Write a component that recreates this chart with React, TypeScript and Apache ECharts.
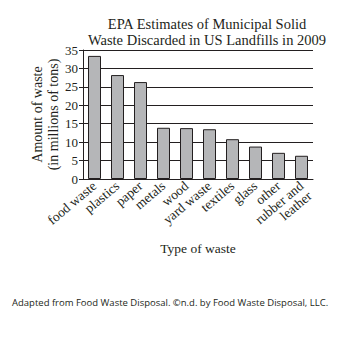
import React, { useEffect, useRef } from "react";
import * as echarts from "echarts";

const categories = ["food waste", "plastics", "paper", "metals", "wood", "yard waste", "textiles", "glass", "other", "rubber and\nleather"];
const values = [33.4, 28.2, 26.3, 13.9, 13.8, 13.5, 10.8, 8.8, 7.1, 6.3];
const yTicks = [0, 5, 10, 15, 20, 25, 30, 35];

const SERIF = "'Liberation Serif', 'DejaVu Serif', serif";

export default function App() {
  const ref = useRef<HTMLDivElement>(null);
  useEffect(() => {
    document.body.style.margin = "0";
    const chart = echarts.init(ref.current!, null, { renderer: "svg" });
    chart.setOption({
      animation: false,
      backgroundColor: "#ffffff",
      title: {
        text: "EPA Estimates of Municipal Solid\nWaste Discarded in US Landfills in 2009",
        left: 202,
        textAlign: "center",
        top: 11,
        textStyle: { fontFamily: SERIF, fontSize: 14.5, fontWeight: "normal", color: "#231f20", lineHeight: 16 },
      },
      grid: { left: 83, right: 43, top: 50, bottom: 174 },
      xAxis: {
        type: "category",
        data: categories,
        name: "Type of waste",
        nameLocation: "middle",
        nameGap: 62,
        nameMoveOverlap: false,
        nameTextStyle: { fontFamily: SERIF, fontSize: 13.5, color: "#231f20" },
        axisLine: { lineStyle: { color: "#231f20", width: 1 } },
        axisTick: { show: false },
        axisLabel: {
          rotate: 40,
          interval: 0,
          margin: 5,
          fontFamily: SERIF,
          fontSize: 13.5,
          color: "#231f20",
          lineHeight: 13,
          align: "right",
          formatter: (v: string) => (v.includes("\n") ? " \n" + v : v),
        },
      },
      yAxis: {
        type: "value",
        min: 0,
        max: 35,
        interval: 5,
        name: "Amount of waste\n(in millions of tons)",
        nameLocation: "middle",
        nameGap: 22,
        nameMoveOverlap: false,
        nameRotate: 90,
        nameTextStyle: { fontFamily: SERIF, fontSize: 14, color: "#231f20", lineHeight: 16 },
        axisLine: { show: true, lineStyle: { color: "#231f20", width: 1 } },
        axisTick: { show: true, length: 4, lineStyle: { color: "#231f20" } },
        axisLabel: {
          fontFamily: SERIF,
          fontSize: 13,
          color: "#231f20",
          margin: 5,
          formatter: (v: number) => (yTicks.includes(v) ? String(v) : ""),
        },
        splitLine: { show: true, lineStyle: { color: "#231f20", width: 1 } },
      },
      series: [
        {
          type: "bar",
          data: values,
          barWidth: 13,
          itemStyle: { color: "#b5b6b8", borderColor: "#231f20", borderWidth: 1 },
        },
      ],
      graphic: [
        {
          type: "text",
          left: 12,
          top: 297,
          style: {
            text: "Adapted from Food Waste Disposal. ©n.d. by Food Waste Disposal, LLC.",
            font: "9.5px 'Open Sans', sans-serif",
            fill: "#231f20",
          },
        },
      ],
    });
    return () => chart.dispose();
  }, []);
  return <div ref={ref} style={{ width: 356, height: 353 }} />;
}
